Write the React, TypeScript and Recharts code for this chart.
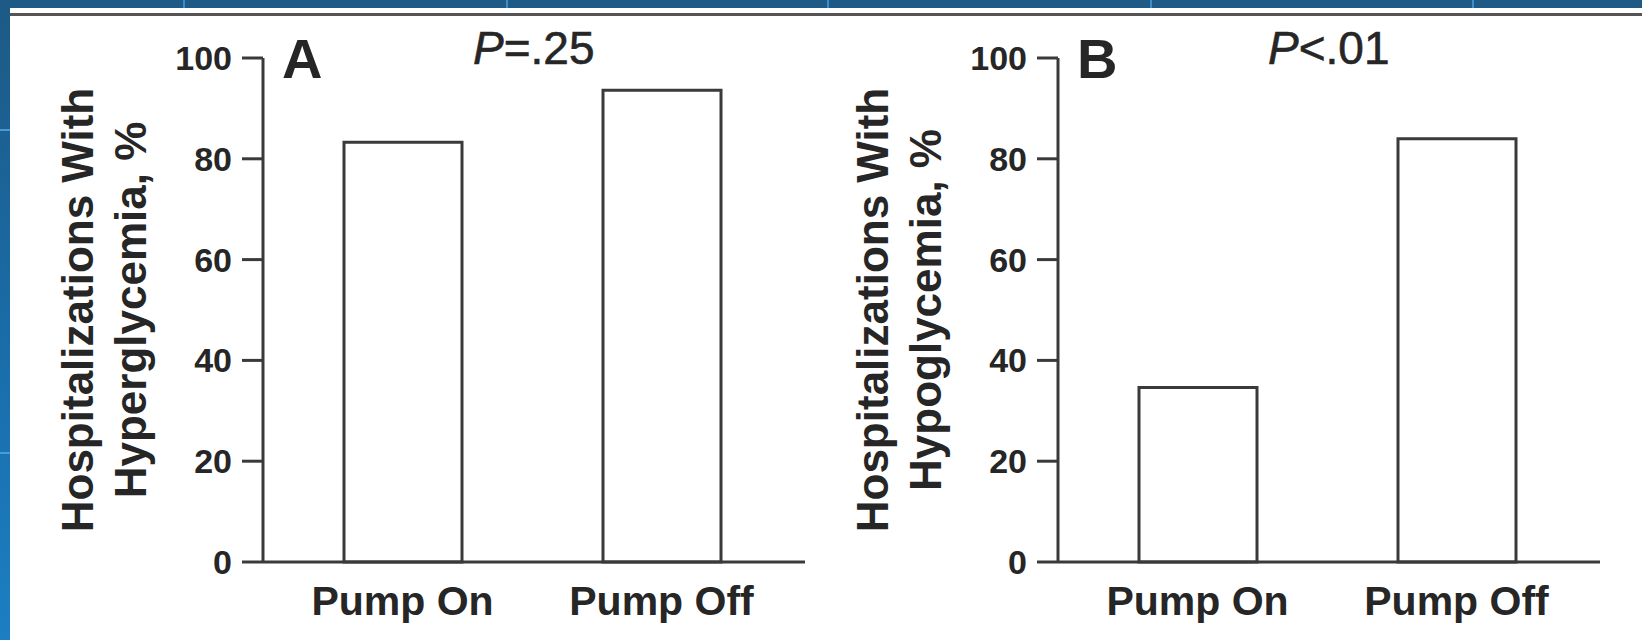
import { BarChart, Bar, XAxis, YAxis } from "recharts";

// values (percent of hospitalizations)
const CATEGORIES = ["Pump On", "Pump Off"];
const HYPERGLYCEMIA = [83.3, 93.6];
const HYPOGLYCEMIA = [34.6, 84];
const Y_TICKS = [0, 20, 40, 60, 80, 100];

const INK = "#262626";
const LINE = "#3a3a3a";
const FONT = "'Liberation Sans', Arial, Helvetica, sans-serif";

// chart box geometry (per panel)
const CHART_W = 830;
const CHART_H = 640;
const MARGIN = { top: 58, right: 25, bottom: 0, left: 0 };
const Y_AXIS_W = 263;
const X_AXIS_H = 78;

interface PanelProps {
  left: number;
  letter: string;
  pOp: string;
  pVal: string;
  title: [string, string];
  values: number[];
}

function Panel({ left, letter, pOp, pVal, title, values }: PanelProps) {
  const data = CATEGORIES.map((name, i) => ({ name, value: values[i] }));
  const plotLeft = MARGIN.left + Y_AXIS_W;
  const plotBottom = CHART_H - MARGIN.bottom - X_AXIS_H;
  const midY = (MARGIN.top + plotBottom) / 2;

  return (
    <div style={{ position: "absolute", left, top: 0, width: CHART_W, height: CHART_H }}>
      <BarChart width={CHART_W} height={CHART_H} data={data} margin={MARGIN}>
        <XAxis
          dataKey="name"
          type="category"
          height={X_AXIS_H}
          padding={{ left: 10, right: 14 }}
          axisLine={{ stroke: LINE, strokeWidth: 3 }}
          tickLine={false}
          tickSize={0}
          tickMargin={24}
          tick={{ fill: INK, fontSize: 41, fontWeight: "bold", fontFamily: FONT }}
        />
        <YAxis
          width={Y_AXIS_W}
          domain={[0, 100]}
          ticks={Y_TICKS}
          interval={0}
          axisLine={{ stroke: LINE, strokeWidth: 3 }}
          tickLine={{ stroke: LINE, strokeWidth: 3 }}
          tickSize={21}
          tickMargin={10}
          tick={{ fill: INK, fontSize: 34, fontWeight: "bold", fontFamily: FONT }}
        />
        <Bar
          dataKey="value"
          barSize={118}
          fill="#ffffff"
          stroke={LINE}
          strokeWidth={3}
          isAnimationActive={false}
        />
      </BarChart>
      <svg
        width={CHART_W}
        height={CHART_H}
        style={{ position: "absolute", left: 0, top: 0, pointerEvents: "none" }}
        fontFamily={FONT}
        fill={INK}
      >
        <text
          x={93}
          y={midY}
          transform={`rotate(-90, 93, ${midY})`}
          textAnchor="middle"
          fontSize={44}
          fontWeight="bold"
        >
          {title[0]}
        </text>
        <text
          x={146}
          y={midY}
          transform={`rotate(-90, 146, ${midY})`}
          textAnchor="middle"
          fontSize={44}
          fontWeight="bold"
        >
          {title[1]}
        </text>
        <text x={plotLeft + 19} y={78} fontSize={56} fontWeight="bold">
          {letter}
        </text>
        <text x={plotLeft + 210} y={64} fontSize={46} stroke={INK} strokeWidth={0.6}>
          <tspan fontStyle="italic">P</tspan>
          <tspan>{pOp}</tspan>
          <tspan>{pVal}</tspan>
        </text>
      </svg>
    </div>
  );
}

const TOP_DIVIDERS = [183, 506, 827, 1150, 1472];
const SIDE_DIVIDERS = [129, 452];

export default function App() {
  return (
    <div
      style={{
        position: "absolute",
        left: 0,
        top: 0,
        width: 1642,
        height: 640,
        background: "#ffffff",
        overflow: "hidden",
      }}
    >
      {/* page furniture around the figure */}
      <div style={{ position: "absolute", left: 0, top: 0, width: 1642, height: 8, background: "#1d5a85" }} />
      {TOP_DIVIDERS.map((x) => (
        <div key={x} style={{ position: "absolute", left: x, top: 0, width: 2, height: 8, background: "#3f8cc6" }} />
      ))}
      <div style={{ position: "absolute", left: 10, top: 13, width: 1632, height: 3, background: "#555555" }} />
      <div
        style={{
          position: "absolute",
          left: 0,
          top: 0,
          width: 10,
          height: 640,
          background: "linear-gradient(#1d5a85, #1a6ba6 50%, #1b7fc2)",
        }}
      />
      {SIDE_DIVIDERS.map((y) => (
        <div key={y} style={{ position: "absolute", left: 0, top: y, width: 10, height: 2, background: "#4a9ad6" }} />
      ))}

      <Panel
        left={0}
        letter="A"
        pOp="="
        pVal=".25"
        title={["Hospitalizations With", "Hyperglycemia, %"]}
        values={HYPERGLYCEMIA}
      />
      <Panel
        left={795}
        letter="B"
        pOp="<"
        pVal=".01"
        title={["Hospitalizations With", "Hypoglycemia, %"]}
        values={HYPOGLYCEMIA}
      />
    </div>
  );
}
